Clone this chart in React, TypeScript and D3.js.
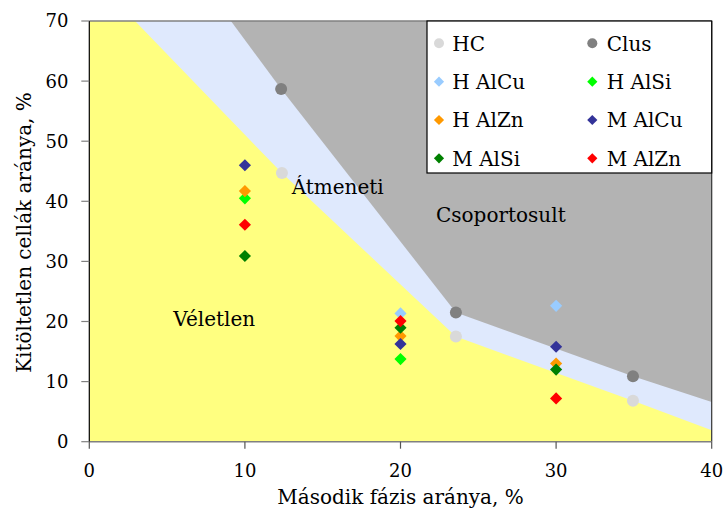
import React from "react";
import * as d3 from "d3";

// ---- data ----
const xTicks = [0, 10, 20, 30, 40];
const yTicks = [0, 10, 20, 30, 40, 50, 60, 70];

// region boundaries (x, y)
const randomBoundaryX = [0, 2.94, 12.38, 23.56, 34.94, 40];
const randomBoundaryY = [70, 70, 44.7, 17.5, 6.8, 1.9];
const clusterBoundaryX = [9.1, 12.33, 23.56, 34.94, 40];
const clusterBoundaryY = [70, 58.7, 21.5, 10.9, 6.6];

const hcX = [12.38, 23.56, 34.94];
const hcY = [44.7, 17.5, 6.8];
const clusX = [12.33, 23.56, 34.94];
const clusY = [58.7, 21.5, 10.9];

const hAlCuX = [20, 30];
const hAlCuY = [21.35, 22.6];
const hAlSiX = [10, 20];
const hAlSiY = [40.5, 13.75];
const hAlZnX = [10, 20, 30];
const hAlZnY = [41.7, 17.58, 13.0];
const mAlCuX = [10, 20, 30];
const mAlCuY = [46.0, 16.25, 15.8];
const mAlSiX = [10, 20, 30];
const mAlSiY = [30.9, 18.96, 12.0];
const mAlZnX = [10, 20, 30];
const mAlZnY = [36.1, 20.07, 7.2];

type Series = { name: string; xs: number[]; ys: number[]; color: string; shape: "circle" | "diamond" };
const series: Series[] = [
  { name: "HC", xs: hcX, ys: hcY, color: "#d9d9d9", shape: "circle" },
  { name: "Clus", xs: clusX, ys: clusY, color: "#808080", shape: "circle" },
  { name: "H AlCu", xs: hAlCuX, ys: hAlCuY, color: "#99ccff", shape: "diamond" },
  { name: "H AlSi", xs: hAlSiX, ys: hAlSiY, color: "#00ff00", shape: "diamond" },
  { name: "H AlZn", xs: hAlZnX, ys: hAlZnY, color: "#ff9900", shape: "diamond" },
  { name: "M AlCu", xs: mAlCuX, ys: mAlCuY, color: "#333399", shape: "diamond" },
  { name: "M AlSi", xs: mAlSiX, ys: mAlSiY, color: "#008000", shape: "diamond" },
  { name: "M AlZn", xs: mAlZnX, ys: mAlZnY, color: "#ff0000", shape: "diamond" },
];

const FONT = "'DejaVu Serif', serif";

export default function App() {
  const W = 725, H = 515;
  const x = d3.scaleLinear().domain([0, 40]).range([89.3, 711.7]);
  const y = d3.scaleLinear().domain([0, 70]).range([441.7, 21]);

  const yellowArea = d3
    .area<number>()
    .x((i) => x(randomBoundaryX[i]))
    .y0(() => y(0))
    .y1((i) => y(randomBoundaryY[i]));
  const grayArea = d3
    .area<number>()
    .x((i) => x(clusterBoundaryX[i]))
    .y0(() => y(70))
    .y1((i) => y(clusterBoundaryY[i]));

  const diamondBig = d3.symbol(d3.symbolSquare, 74)();
  const diamondSmall = d3.symbol(d3.symbolSquare, 52)();

  const marker = (s: Series, cx: number, cy: number, legend: boolean, key: string) =>
    s.shape === "circle" ? (
      <circle key={key} cx={cx} cy={cy} r={legend ? 5 : 6} fill={s.color} />
    ) : (
      <path
        key={key}
        d={legend ? diamondSmall! : diamondBig!}
        transform={`translate(${cx},${cy}) rotate(45)`}
        fill={s.color}
      />
    );

  const legendX0 = 427, legendY0 = 21, legendW = 711.7 - 427, legendH = 152;
  const colX = [439, 592.3];
  const textX = [452.3, 606.7];
  const rowY = [43.3, 81.7, 120, 158.3];

  return (
    <svg
      width={W}
      height={H}
      style={{ position: "absolute", left: 0, top: 0, background: "#fff" }}
      fontFamily={FONT}
    >
      {/* regions */}
      <rect x={x(0)} y={y(70)} width={x(40) - x(0)} height={y(0) - y(70)} fill="#dfe9fd" />
      <path d={yellowArea(d3.range(randomBoundaryX.length))!} fill="#ffff80" />
      <path d={grayArea(d3.range(clusterBoundaryX.length))!} fill="#b3b3b3" />

      {/* frame */}
      <line x1={x(0)} x2={x(40)} y1={y(70)} y2={y(70)} stroke="#808080" strokeWidth={1.5} />
      <line x1={x(40)} x2={x(40)} y1={y(70)} y2={y(0)} stroke="#333" strokeWidth={1.2} />
      <line x1={x(0)} x2={x(40)} y1={y(0)} y2={y(0)} stroke="#808080" strokeWidth={1.5} />
      <line x1={x(0)} x2={x(0)} y1={y(70)} y2={y(0)} stroke="#000" strokeWidth={1.2} />

      {/* y axis ticks */}
      {yTicks.map((t) => (
        <g key={"y" + t}>
          <line x1={x(0) - 8} x2={x(0)} y1={y(t)} y2={y(t)} stroke="#808080" strokeWidth={1.2} />
          <text x={68.5} y={y(t)} dy="0.36em" textAnchor="end" fontSize={18} fill="#000">
            {t}
          </text>
        </g>
      ))}
      {/* x axis ticks */}
      {xTicks.map((t) => (
        <g key={"x" + t}>
          <line x1={x(t)} x2={x(t)} y1={y(0)} y2={y(0) + 7} stroke="#555" strokeWidth={1.2} />
          <text x={x(t)} y={477} textAnchor="middle" fontSize={18} fill="#000">
            {t}
          </text>
        </g>
      ))}

      {/* axis titles */}
      <text x={x(20)} y={504} textAnchor="middle" fontSize={20} fill="#000">
        Második fázis aránya, %
      </text>
      <text
        transform={`translate(31,${232.5}) rotate(-90)`}
        textAnchor="middle"
        fontSize={20}
        fill="#000"
      >
        Kitöltetlen cellák aránya, %
      </text>

      {/* region labels */}
      <text x={291.7} y={194} fontSize={20} fill="#000">Átmeneti</text>
      <text x={436} y={222} fontSize={20} fill="#000">Csoportosult</text>
      <text x={173.3} y={326} fontSize={20} fill="#000">Véletlen</text>

      {/* points */}
      {series.map((s) =>
        s.xs.map((xv, i) => marker(s, x(xv), y(s.ys[i]), false, s.name + i))
      )}

      {/* legend */}
      <rect x={legendX0} y={legendY0} width={legendW} height={legendH} fill="#fff" stroke="#000" strokeWidth={1.2} />
      {series.map((s, i) => {
        const col = i % 2;
        const row = Math.floor(i / 2);
        return (
          <g key={"lg" + s.name}>
            {marker(s, colX[col], rowY[row], true, "m" + s.name)}
            <text x={textX[col]} y={rowY[row]} dy="0.36em" fontSize={20} fill="#000">
              {s.name}
            </text>
          </g>
        );
      })}
    </svg>
  );
}
